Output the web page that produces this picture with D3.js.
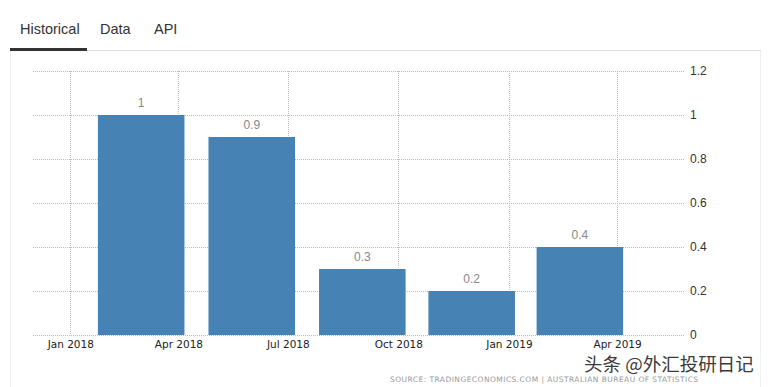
<!DOCTYPE html>
<html>
<head>
<meta charset="utf-8">
<script src="https://cdn.jsdelivr.net/npm/d3@7"></script>
<style>
  body { margin: 0; background: #fff; }
  svg { display: block; }
</style>
</head>
<body>
<svg id="chart" width="776" height="387"></svg>
<script>
// quarterly values, bars centred on these dates
const barDates = ['2018-03-01', '2018-06-01', '2018-09-01', '2018-12-01', '2019-03-01'];
const barValues = [1, 0.9, 0.3, 0.2, 0.4];
const barLabels = ['1', '0.9', '0.3', '0.2', '0.4'];
const xTickDates = ['2018-01-01', '2018-04-01', '2018-07-01', '2018-10-01', '2019-01-01', '2019-04-01'];
const yTicks = [0, 0.2, 0.4, 0.6, 0.8, 1, 1.2];
const tabs = ['Historical', 'Data', 'API'];

const parse = d3.timeParse('%Y-%m-%d');
const svg = d3.select('#chart');

// tabs
const tabX = [20, 100, 154];
svg.selectAll('.tab')
    .data(tabs)
    .enter().append('text')
    .attr('x', (d, i) => tabX[i])
    .attr('y', 34)
    .attr('font-family', 'Liberation Sans, Arial, sans-serif')
    .attr('font-size', 14.5)
    .attr('fill', '#333')
    .text(d => d);

svg.append('line')
    .attr('x1', 10).attr('x2', 761).attr('y1', 50.5).attr('y2', 50.5)
    .attr('stroke', '#ddd');
svg.append('rect')
    .attr('x', 10).attr('y', 48).attr('width', 77).attr('height', 3)
    .attr('fill', '#333');
// panel borders
svg.append('line')
    .attr('x1', 10.5).attr('x2', 10.5).attr('y1', 51).attr('y2', 387)
    .attr('stroke', '#f0f0f0');
svg.append('line')
    .attr('x1', 760.5).attr('x2', 760.5).attr('y1', 51).attr('y2', 387)
    .attr('stroke', '#f0f0f0');

const plotLeft = 33, plotRight = 685;

const x = d3.scaleTime()
    .domain([parse('2017-12-01'), parse('2019-05-15')])
    .range([33, 670]);

const y = d3.scaleLinear()
    .domain([0, 1.2])
    .range([335, 71]);

const grid = svg.append('g');
grid.selectAll('.hgrid')
    .data(yTicks)
    .enter().append('line')
    .attr('x1', plotLeft).attr('x2', plotRight)
    .attr('y1', d => Math.round(y(d)) + 0.5)
    .attr('y2', d => Math.round(y(d)) + 0.5)
    .attr('stroke', '#bbb')
    .attr('stroke-dasharray', '1,1');

grid.selectAll('.vgrid')
    .data(xTickDates)
    .enter().append('line')
    .attr('x1', d => Math.round(x(parse(d))) + 0.5)
    .attr('x2', d => Math.round(x(parse(d))) + 0.5)
    .attr('y1', y(1.2)).attr('y2', y(0))
    .attr('stroke', '#bbb')
    .attr('stroke-dasharray', '1,1');

// bar width in days
const halfDays = 36;
const bars = barDates.map((d, i) => ({ date: parse(d), value: barValues[i], label: barLabels[i] }));

svg.selectAll('.bar')
    .data(bars)
    .enter().append('rect')
    .attr('class', 'bar')
    .attr('x', d => x(d3.timeDay.offset(d.date, -halfDays)))
    .attr('width', d => x(d3.timeDay.offset(d.date, halfDays)) - x(d3.timeDay.offset(d.date, -halfDays)))
    .attr('y', d => y(d.value))
    .attr('height', d => y(0) - y(d.value))
    .attr('fill', '#4682b4');

svg.selectAll('.label')
    .data(bars)
    .enter().append('text')
    .attr('class', 'label')
    .attr('x', d => x(d.date))
    .attr('y', d => y(d.value) - 8)
    .attr('text-anchor', 'middle')
    .attr('font-family', 'Liberation Sans, Arial, sans-serif')
    .attr('font-size', 12)
    .attr('fill', '#888')
    .text(d => d.label);

// axes
const xAxis = d3.axisBottom(x)
    .tickValues(xTickDates.map(parse))
    .tickFormat(d3.timeFormat('%b %Y'))
    .tickSize(0)
    .tickPadding(6);

svg.append('g')
    .attr('transform', `translate(0,${y(0)})`)
    .call(xAxis)
    .call(g => g.select('.domain').remove())
    .selectAll('text')
    .attr('font-family', 'DejaVu Sans, Verdana, sans-serif')
    .attr('font-size', 10.5)
    .attr('fill', '#222');

const yAxis = d3.axisRight(y)
    .tickValues(yTicks)
    .tickFormat(d3.format('~g'))
    .tickSize(0)
    .tickPadding(5);

svg.append('g')
    .attr('transform', `translate(${plotRight},0)`)
    .call(yAxis)
    .call(g => g.select('.domain').remove())
    .selectAll('text')
    .attr('font-family', 'Liberation Sans, Arial, sans-serif')
    .attr('font-size', 12)
    .attr('fill', '#333');

// source line
svg.append('text')
    .attr('x', 390)
    .attr('y', 382)
    .attr('font-family', 'DejaVu Sans, Verdana, sans-serif')
    .attr('font-size', 7.5)
    .attr('fill', '#999')
    .attr('letter-spacing', 0.45)
    .text('SOURCE: TRADINGECONOMICS.COM  |  AUSTRALIAN BUREAU OF STATISTICS');

// watermark
svg.append('text')
    .attr('x', 584)
    .attr('y', 371)
    .attr('font-family', 'Noto Sans CJK SC, sans-serif')
    .attr('font-size', 18.5)
    .attr('fill', '#3a3a3a')
    .attr('stroke', '#fff')
    .attr('stroke-width', 2)
    .attr('paint-order', 'stroke')
    .text('头条 @外汇投研日记');
</script>
</body>
</html>
